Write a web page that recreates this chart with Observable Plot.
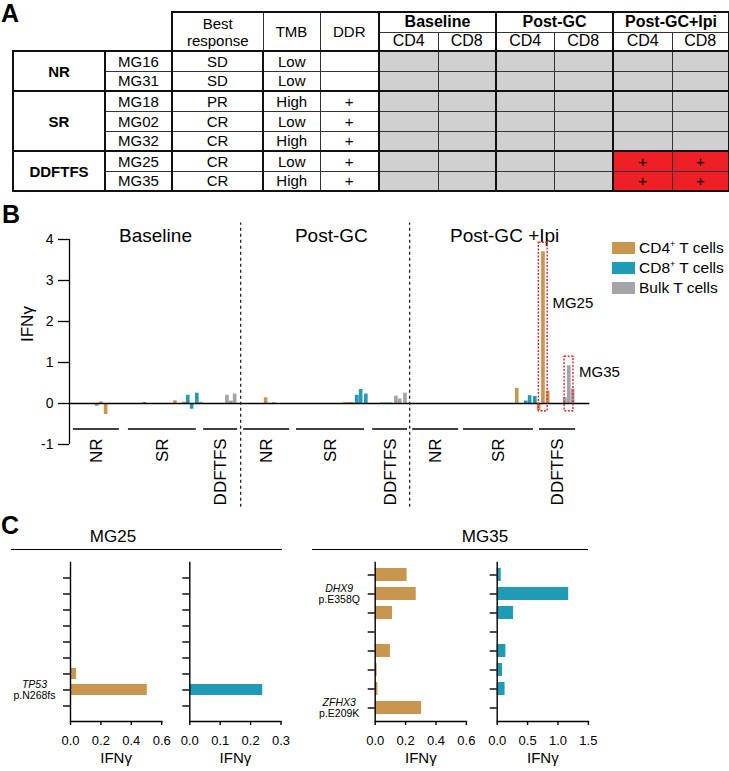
<!DOCTYPE html>
<html><head><meta charset="utf-8">
<script src="https://cdn.jsdelivr.net/npm/d3@7"></script>
<script src="https://cdn.jsdelivr.net/npm/@observablehq/plot@0.6"></script>
<style>
body{margin:0;background:#fff;width:729px;height:771px;position:relative;overflow:hidden;font-family:"Liberation Sans",Arial,Helvetica,sans-serif;color:#000}
.letter{position:absolute;font-weight:bold;font-size:25px;line-height:1;z-index:5}
#tbl{position:absolute;left:12px;top:11px;border-collapse:collapse;table-layout:fixed;width:716px;z-index:1}
#tbl td{border:1px solid #333;padding:0;text-align:center;vertical-align:middle;font-size:15px;line-height:1;overflow:hidden;white-space:nowrap}
#tbl td.corner{border-top:none;border-left:none;border-right:none}
#tbl td.hdr{font-size:15px;line-height:17px}
#tbl td.tp{font-weight:bold;font-size:16px}
#tbl td.sub{font-size:16px}
#tbl td.grp{font-weight:bold;font-size:15px}
#tbl td.st{background:#d0d0d0;font-size:15px}
#tbl td.pos{background:#ee2026}
#tbl td.thickT{border-top:2px solid #111}
#tbl td.thickB{border-bottom:2px solid #111}
#tbl td.thickL{border-left:2px solid #111}
#tbl td.thickR{border-right:2px solid #111}
.abs{position:absolute}
.hdrC{position:absolute;font-size:17px;line-height:1;white-space:nowrap;transform:translateX(-50%)}
.hline{position:absolute;height:0;border-top:1.5px solid #000}
.leg{position:absolute;font-size:15.5px;line-height:1;white-space:nowrap}
.sw{position:absolute;width:23px;height:12px}
sup{font-size:9px;vertical-align:6px;line-height:0}
</style></head>
<body>
<table id="tbl"></table>
<div class="letter" style="left:1px;top:1px">A</div>
<div class="letter" style="left:2px;top:202px">B</div>
<div class="letter" style="left:1px;top:513px">C</div>
<div id="chartB" class="abs" style="left:0;top:215px"></div>
<div id="legend"></div>
<div class="hdrC" style="left:113px;top:527.7px">MG25</div>
<div class="hline" style="left:11px;top:548.5px;width:271px"></div>
<div class="hdrC" style="left:485px;top:527.7px">MG35</div>
<div class="hline" style="left:312px;top:548.5px;width:276px"></div>
<div id="c1" class="abs" style="left:0;top:550px"></div>
<div id="c2" class="abs" style="left:160px;top:550px"></div>
<div id="c3" class="abs" style="left:295px;top:550px"></div>
<div id="c4" class="abs" style="left:480px;top:550px"></div>
<script>
// ---------- Panel A data ----------
const groups = ["NR","NR","SR","SR","SR","DDFTFS","DDFTFS"];
const patients = ["MG16","MG31","MG18","MG02","MG32","MG25","MG35"];
const bestResponse = ["SD","SD","PR","CR","CR","CR","CR"];
const tmb = ["Low","Low","High","Low","High","Low","High"];
const ddr = ["","","+","+","+","+","+"];
const timepoints = ["Baseline","Post-GC","Post-GC+Ipi"];
const subsets = ["CD4","CD8"];
// reactivity per patient: [Baseline CD4, CD8, Post-GC CD4, CD8, Post-GC+Ipi CD4, CD8]
const reactivity = [
  [0,0,0,0,0,0],
  [0,0,0,0,0,0],
  [0,0,0,0,0,0],
  [0,0,0,0,0,0],
  [0,0,0,0,0,0],
  [0,0,0,0,1,1],
  [0,0,0,0,1,1]
];

// ---------- Panel B data: [bar index along axis, IFNγ, cell type] ----------
const cellTypes = ["CD4","CD8","Bulk"];
const cellTypeLabels = ["CD4<sup>+</sup> T cells","CD8<sup>+</sup> T cells","Bulk T cells"];
const baselineBars = [
  [6.0,-0.07,"CD4"],[7.0,0.04,"CD4"],[8.1,-0.27,"CD4"],
  [17.1,0.02,"CD8"],
  [24.2,0.065,"CD4"],[25.1,-0.02,"CD4"],[26.3,0.03,"CD4"],
  [27.2,0.20,"CD8"],[28.1,-0.14,"CD8"],[29.3,0.25,"CD8"],[30.2,0.03,"CD4"],
  [36.3,0.20,"Bulk"],[37.2,0.06,"Bulk"],[38.1,0.23,"Bulk"]
];
const postGCBars = [
  [45.3,0.14,"CD4"],[47.2,0.02,"CD4"],
  [63.7,0.02,"CD4"],[64.6,0.02,"CD4"],[65.4,0.025,"CD4"],
  [66.5,0.20,"CD8"],[67.4,0.34,"CD8"],[68.6,0.23,"CD8"],
  [72.3,0.01,"CD8"],[73.3,0.01,"CD8"],[74.2,0.01,"CD8"],
  [75.6,0.18,"Bulk"],[76.5,0.11,"Bulk"],[77.7,0.25,"Bulk"]
];
const postGCIpiBars = [
  [103.7,0.37,"CD4"],
  [105.8,0.06,"CD8"],[106.7,0.19,"CD8"],[107.9,0.17,"CD8"],
  [108.8,-0.18,"CD4"],[109.8,3.70,"CD4"],[110.9,0.30,"CD4"],
  [114.9,0.14,"Bulk"],[115.8,0.92,"Bulk"],[116.7,0.35,"Bulk"]
];
const sectionNames = ["Baseline","Post-GC","Post-GC +Ipi"];
const sectionCenters = [20.0,60.9,101.2];
const sectionDividers = [39.8,79.1];
const groupSpans = [
  ["NR",0.9,11.6],["SR",13.7,29.5],["DDFTFS",31.2,39.1],
  ["NR",40.5,51.2],["SR",52.8,68.6],["DDFTFS",70.5,78.6],
  ["NR",79.8,90.5],["SR",91.6,107.9],["DDFTFS",109.3,117.7]
];
const highlighted = [["MG25",109.8],["MG35",115.8]];
const yTicksB = [-1,0,1,2,3,4];

// ---------- Panel C data ----------
const mg25CD4 = [null,null,null,null,null,null,0.04,0.505,null];
const mg25CD8 = [null,null,null,null,null,null,null,0.24,null];
const mg35CD4 = [0.21,0.27,0.114,null,0.10,0.013,0.018,0.305];
const mg35CD8 = [0.066,1.176,0.27,null,0.143,0.088,0.13,null];
const mg25Mutations = [[7,"TP53","p.N268fs"]];
const mg35Mutations = [[1,"DHX9","p.E358Q"],[7,"ZFHX3","p.E209K"]];
const ticksCD4 = [0,0.2,0.4,0.6];
const ticksCD8mg25 = [0,0.1,0.2,0.3];
const ticksCD8mg35 = [0,0.5,1.0,1.5];

const colors = {CD4:"#C8964F", CD8:"#1F9BB5", Bulk:"#A3A3A8"};
const FONT = '"Liberation Sans", Arial, Helvetica, sans-serif';

// ---------- Panel A table ----------
(function(){
  const colW = [92,67,91,57,59,59,58,58,59,59,57];
  let h = "<colgroup>" + colW.map(w=>`<col style="width:${w}px">`).join("") + "</colgroup>";
  h += `<tr style="height:20px"><td class="corner" colspan="2" rowspan="2"></td>`+
       `<td rowspan="2" class="hdr thickT thickL thickB">Best<br>response</td>`+
       `<td rowspan="2" class="hdr thickT thickB">TMB</td>`+
       `<td rowspan="2" class="hdr thickT thickB thickR">DDR</td>`+
       timepoints.map((t,i)=>`<td colspan="2" class="tp thickT thickL${i===timepoints.length-1?' thickR':''}">${t}</td>`).join("")+`</tr>`;
  h += `<tr style="height:19px">` + timepoints.map((t,i)=>subsets.map((s,j)=>
        `<td class="sub thickB${j===0?' thickL':''}${(i===timepoints.length-1&&j===1)?' thickR':''}">${s}</td>`).join("")).join("") + `</tr>`;
  patients.forEach((p,i)=>{
    const first = i===0 || groups[i]!==groups[i-1];
    const last = i===patients.length-1 || groups[i]!==groups[i+1];
    const e = (first?" thickT":"") + (last?" thickB":"");
    let r = `<tr style="height:20px">`;
    if (first) {
      const n = groups.filter(g=>g===groups[i]).length;
      r += `<td rowspan="${n}" class="grp thickT thickB thickL thickR">${groups[i]}</td>`;
    }
    r += `<td class="thickR${e}">${p}</td>`;
    r += `<td class="thickR${e}">${bestResponse[i]}</td>`;
    r += `<td class="${e}">${tmb[i]}</td>`;
    r += `<td class="thickR${e}">${ddr[i]}</td>`;
    r += reactivity[i].map((v,k)=>`<td class="st${v?' pos':''}${k%2===0?' thickL':''}${k===5?' thickR':''}${e}">${v?'+':''}</td>`).join("");
    r += `</tr>`;
    h += r;
  });
  document.getElementById("tbl").innerHTML = h;
})();

// ---------- Panel B chart ----------
const allBars = [...baselineBars, ...postGCBars, ...postGCIpiBars].map(([slot,value,type])=>({slot,value,type}));
const sections = sectionNames.map((name,i)=>({name, center:sectionCenters[i]}));
const spans = groupSpans.map(([group,start,end])=>({group,start,end}));
const highlights = highlighted.map(([patient,slot])=>({patient,slot,top:allBars.find(b=>b.slot===slot).value}));
const annotations = [{text:"MG25", x:112.3, y:2.45},{text:"MG35", x:118.5, y:0.76}];

const chartB = Plot.plot({
  width:729, height:300, marginLeft:69, marginRight:139.7, marginTop:24, marginBottom:71,
  style:{fontFamily:FONT, fontSize:"13.5px", color:"#000", background:"transparent", overflow:"visible"},
  x:{domain:[0,121], axis:null},
  y:{domain:[-1,4], axis:null},
  color:{domain:cellTypes, range:cellTypes.map(t=>colors[t])},
  marks:[
    Plot.rect(allBars,{x1:"slot", x2:d=>d.slot+0.85, y1:0, y2:"value", fill:"type"}),
    Plot.ruleY([0],{x1:0, x2:121, stroke:"#000", strokeWidth:1.3}),
    Plot.ruleX([0],{y1:-1, y2:4, stroke:"#000", strokeWidth:1.3}),
    Plot.axisY({ticks:yTicksB, tickFormat:d=>String(d), tickSize:11, tickPadding:5, label:null, fontSize:14, strokeWidth:1.3}),
    Plot.text(["IFNγ"],{frameAnchor:"left", rotate:-90, dx:-42, fontSize:17}),
    Plot.ruleX(sectionDividers,{y1:-2.53, y2:4.4, stroke:"#222", strokeDasharray:"3,3", strokeWidth:1.3}),
    Plot.text(sections,{x:"center", text:"name", frameAnchor:"top", dy:-11, fontSize:19}),
    Plot.ruleY(spans,{x1:"start", x2:"end", y:-0.62, stroke:"#000", strokeWidth:1.5}),
    Plot.text(spans,{x:d=>(d.start+d.end)/2, y:-0.85, text:"group", rotate:-90, textAnchor:"end", fontSize:17}),
    Plot.rect(highlights,{x1:d=>d.slot-0.65, x2:d=>d.slot+1.4, y1:-0.19, y2:d=>d.top+0.22, fill:"none", stroke:"#E8202A", strokeDasharray:"2,1.5", strokeWidth:1.4}),
    Plot.text(annotations,{x:"x", y:"y", text:"text", textAnchor:"start", fontSize:15})
  ]
});
document.getElementById("chartB").appendChild(chartB);

// legend
(function(){
  const centers = [247.5,268,287.5];
  const L = document.getElementById("legend");
  cellTypes.forEach((t,i)=>{
    const sw = document.createElement("div"); sw.className="sw";
    sw.style.left="612px"; sw.style.top=(centers[i]-6)+"px"; sw.style.background=colors[t];
    L.appendChild(sw);
    const tx = document.createElement("div"); tx.className="leg";
    tx.style.left="639px"; tx.style.top=(centers[i]-7.6)+"px"; tx.innerHTML=cellTypeLabels[i];
    L.appendChild(tx);
  });
})();

// ---------- Panel C charts ----------
function hbar(opts){
  const {values, ticks, type, mutations, width, marginLeft, pi, po} = opts;
  const n = values.length;
  const data = values.map((v,i)=>({idx:i, value:v})).filter(d=>d.value!=null);
  const muts = (mutations||[]).map(([idx,gene,mut])=>({idx,gene,mut}));
  const max = ticks[ticks.length-1];
  return Plot.plot({
    width, height:221, marginLeft, marginRight:width-marginLeft-91.2, marginTop:11.7, marginBottom:50,
    style:{fontFamily:FONT, fontSize:"13px", color:"#000", background:"transparent", overflow:"visible"},
    x:{domain:[0,max], axis:null},
    y:{domain:d3.range(n), type:"band", paddingInner:pi, paddingOuter:po, axis:null},
    marks:[
      Plot.barX(data,{x:"value", y:"idx", fill:colors[type]}),
      Plot.ruleX([0],{stroke:"#000", strokeWidth:1.4}),
      Plot.frame({anchor:"bottom", stroke:"#000", strokeWidth:1.4}),
      Plot.axisX({ticks, tickFormat:d3.format(".1f"), tickSize:4, tickPadding:10, label:null, fontSize:13, strokeWidth:1.4}),
      Plot.axisY({tickSize:7, tickFormat:()=>"", label:null, strokeWidth:1.4}),
      Plot.text(["IFNγ"],{frameAnchor:"bottom", dy:41, fontSize:15}),
      Plot.text(muts,{x:0, y:"idx", text:"gene", dx:-36, dy:-5.5, fontSize:10.5, fontStyle:"italic"}),
      Plot.text(muts,{x:0, y:"idx", text:"mut", dx:-36, dy:5.5, fontSize:10.5})
    ]
  });
}
document.getElementById("c1").appendChild(hbar({values:mg25CD4, ticks:ticksCD4, type:"CD4", mutations:mg25Mutations, width:175, marginLeft:70, pi:0.31, po:0.40}));
document.getElementById("c2").appendChild(hbar({values:mg25CD8, ticks:ticksCD8mg25, type:"CD8", mutations:null, width:135, marginLeft:29.3, pi:0.31, po:0.40}));
document.getElementById("c3").appendChild(hbar({values:mg35CD4, ticks:ticksCD4, type:"CD4", mutations:mg35Mutations, width:185, marginLeft:79.7, pi:0.33, po:0.32}));
document.getElementById("c4").appendChild(hbar({values:mg35CD8, ticks:ticksCD8mg35, type:"CD8", mutations:null, width:125, marginLeft:16.7, pi:0.33, po:0.32}));
</script>
</body></html>
